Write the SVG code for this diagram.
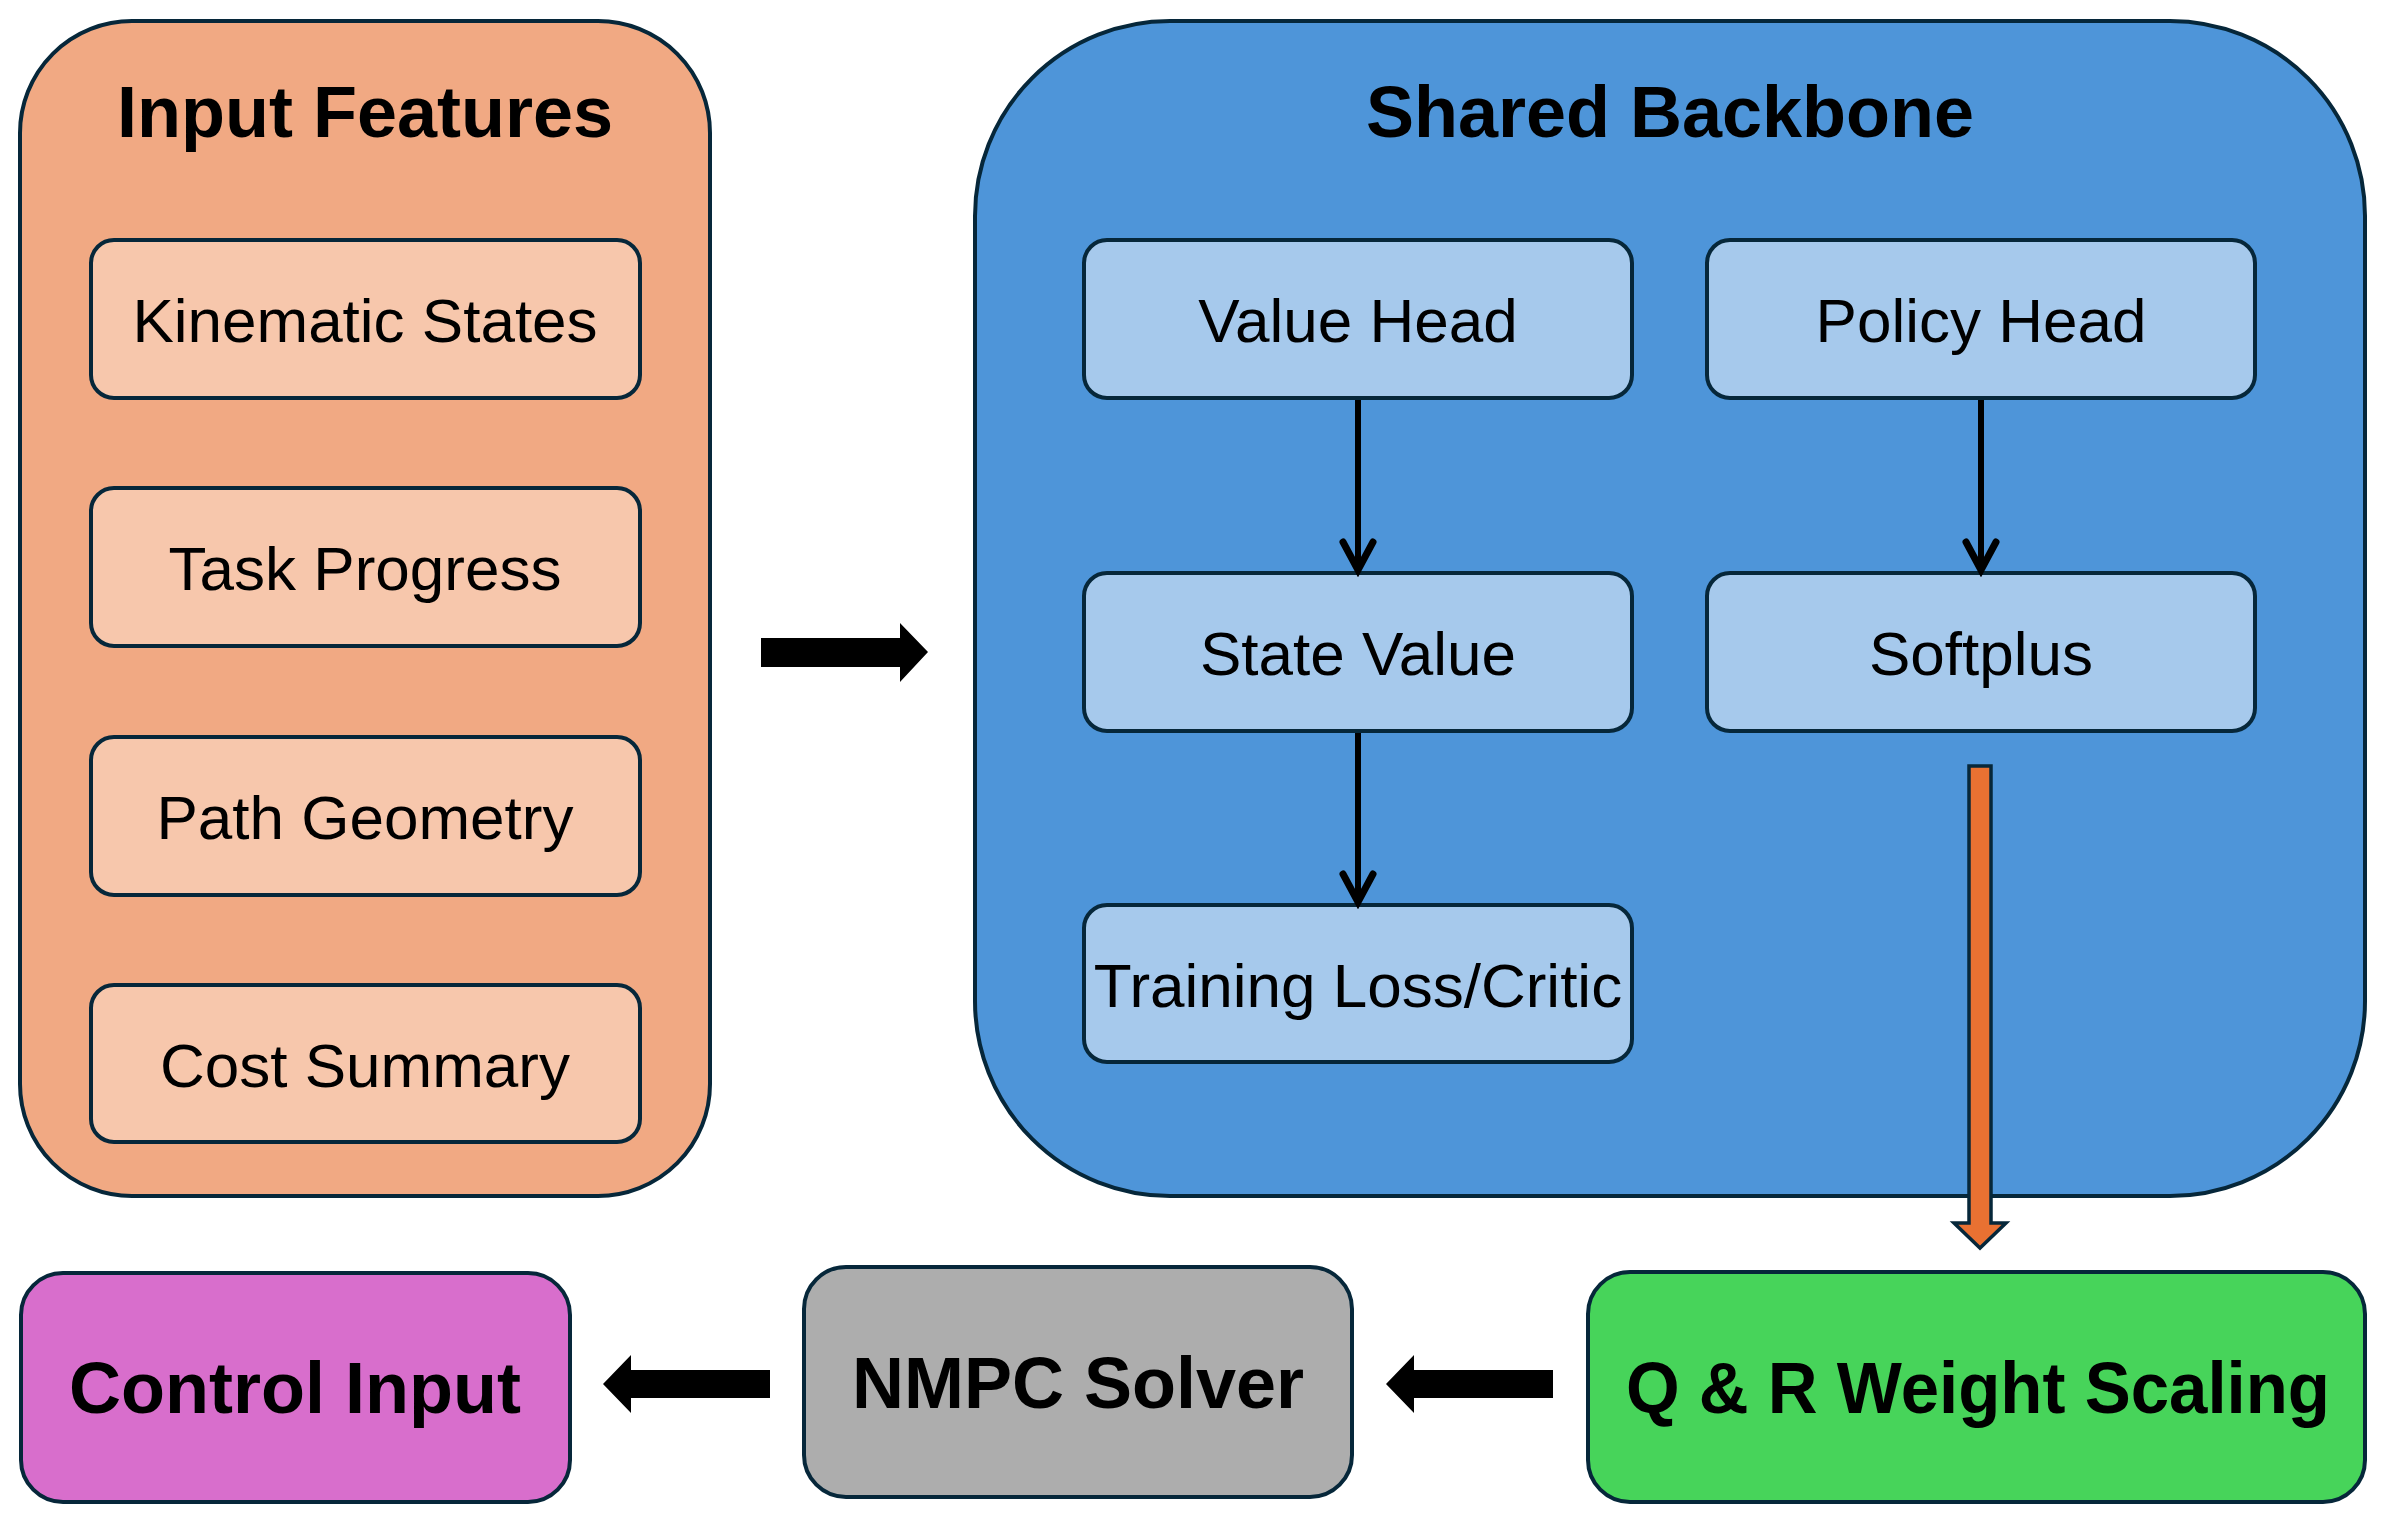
<svg xmlns="http://www.w3.org/2000/svg" width="2383" height="1525" viewBox="0 0 2383 1525">
<defs>
<style>
.box{stroke:#06273a;stroke-width:4}
.title{font-family:"Liberation Sans",Arial,sans-serif;font-weight:bold;font-size:72px;fill:#000;text-anchor:middle}
.lbl{font-family:"Liberation Sans",Arial,sans-serif;font-size:62px;fill:#000;text-anchor:middle}
.conn{stroke:#000;stroke-width:6;fill:none}
</style>
<marker id="vhead" markerUnits="userSpaceOnUse" markerWidth="50" markerHeight="50" viewBox="-45 -25 50 50" refX="0" refY="0" orient="auto">
<path d="M-30,-15 L-2,0 L-30,15" fill="none" stroke="#000" stroke-width="7" stroke-linecap="round" stroke-linejoin="miter"/>
</marker>
</defs>
<rect width="2383" height="1525" fill="#fff"/>

<g id="input-features">
<rect class="box" x="20" y="21" width="690" height="1175" rx="112" ry="112" fill="#f1a983"/>
<text class="title" x="365" y="137">Input Features</text>
</g>
<g id="kinematic-states">
<rect class="box" x="91" y="240" width="549" height="158" rx="23" fill="#f7c7ac"/>
<text class="lbl" x="365" y="342">Kinematic States</text>
</g>
<g id="task-progress">
<rect class="box" x="91" y="488" width="549" height="158" rx="23" fill="#f7c7ac"/>
<text class="lbl" x="365" y="590">Task Progress</text>
</g>
<g id="path-geometry">
<rect class="box" x="91" y="737" width="549" height="158" rx="23" fill="#f7c7ac"/>
<text class="lbl" x="365" y="839">Path Geometry</text>
</g>
<g id="cost-summary">
<rect class="box" x="91" y="985" width="549" height="157" rx="23" fill="#f7c7ac"/>
<text class="lbl" x="365" y="1087">Cost Summary</text>
</g>

<g id="shared-backbone">
<rect class="box" x="975" y="21" width="1390" height="1175" rx="195" ry="195" fill="#4e95d9"/>
<text class="title" x="1670" y="137">Shared Backbone</text>
</g>
<g id="value-head">
<rect class="box" x="1084" y="240" width="548" height="158" rx="23" fill="#a6c9ec"/>
<text class="lbl" x="1358" y="342">Value Head</text>
</g>
<g id="policy-head">
<rect class="box" x="1707" y="240" width="548" height="158" rx="23" fill="#a6c9ec"/>
<text class="lbl" x="1981" y="342">Policy Head</text>
</g>
<g id="state-value">
<rect class="box" x="1084" y="573" width="548" height="158" rx="23" fill="#a6c9ec"/>
<text class="lbl" x="1358" y="675">State Value</text>
</g>
<g id="softplus">
<rect class="box" x="1707" y="573" width="548" height="158" rx="23" fill="#a6c9ec"/>
<text class="lbl" x="1981" y="675">Softplus</text>
</g>
<g id="training-loss">
<rect class="box" x="1084" y="905" width="548" height="157" rx="23" fill="#a6c9ec"/>
<text class="lbl" x="1358" y="1007">Training Loss/Critic</text>
</g>

<g id="control-input">
<rect class="box" x="21" y="1273" width="549" height="229" rx="42" fill="#d86ecc"/>
<text class="title" x="295" y="1413">Control Input</text>
</g>
<g id="nmpc-solver">
<rect class="box" x="804" y="1267" width="548" height="230" rx="42" fill="#adadad"/>
<text class="title" x="1078" y="1408">NMPC Solver</text>
</g>
<g id="qr-weight-scaling">
<rect class="box" x="1588" y="1272" width="777" height="230" rx="42" fill="#47d45a"/>
<text class="title" x="1978" y="1413" textLength="704" lengthAdjust="spacingAndGlyphs">Q &amp; R Weight Scaling</text>
</g>

<g id="connectors">
<line class="conn" x1="1358" y1="400" x2="1358" y2="572" marker-end="url(#vhead)"/>
<line class="conn" x1="1981" y1="400" x2="1981" y2="572" marker-end="url(#vhead)"/>
<line class="conn" x1="1358" y1="733" x2="1358" y2="904" marker-end="url(#vhead)"/>
<polygon points="761,638 900,638 900,623 928,652 900,682 900,667 761,667" fill="#000"/>
<polygon points="770,1370 631,1370 631,1355 603,1384 631,1413 631,1398 770,1398" fill="#000"/>
<polygon points="1553,1370 1414,1370 1414,1355 1386,1384 1414,1413 1414,1398 1553,1398" fill="#000"/>
<polygon points="1969,766 1991,766 1991,1223 2006,1223 1980,1248 1954,1223 1969,1223" fill="#e97132" stroke="#06273a" stroke-width="3.5" stroke-linejoin="miter"/>
</g>
</svg>
